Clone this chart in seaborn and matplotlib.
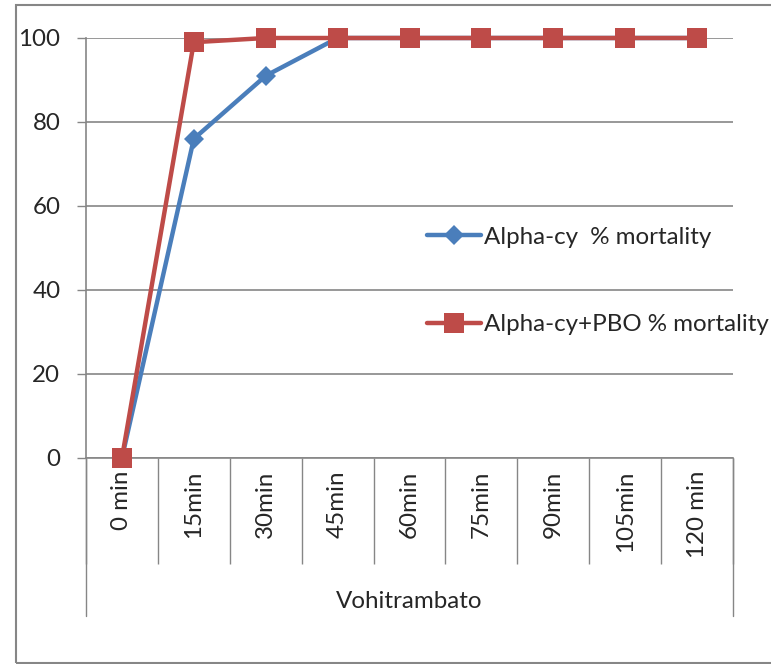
import numpy as np
import pandas as pd
import matplotlib
matplotlib.use("Agg")
import matplotlib.pyplot as plt
from matplotlib.patches import Rectangle
import seaborn as sns

# data
times = ["0 min", "15min", "30min", "45min", "60min", "75min", "90min", "105min", "120 min"]
alpha_cy = [0, 76, 91, 100, 100, 100, 100, 100, 100]
alpha_cy_pbo = [0, 99, 100, 100, 100, 100, 100, 100, 100]
group_label = "Vohitrambato"

sns.set_style("white")
plt.rcParams["font.family"] = ["Lato", "DejaVu Sans"]
FS = 17.4
GRAY = "#868686"

fig = plt.figure(figsize=(7.71, 6.64), dpi=100)
ax = fig.add_axes([86 / 771, (664 - 458) / 664, (733 - 86) / 771, 420 / 664])

df = pd.DataFrame({"pos": np.arange(len(times)), "a": alpha_cy, "b": alpha_cy_pbo})
sns.lineplot(data=df, x="pos", y="a", ax=ax, color="#4A7EBB", lw=3.2, marker="D",
             markersize=10, markeredgewidth=0, label="Alpha-cy  % mortality",
             clip_on=False, zorder=3)
sns.lineplot(data=df, x="pos", y="b", ax=ax, color="#BE4B48", lw=3.2, marker="s",
             markersize=14, markeredgewidth=0, label="Alpha-cy+PBO % mortality",
             clip_on=False, zorder=4)

ax.set_xlim(-0.5, len(times) - 0.5)
ax.set_ylim(0, 100)
ax.set_xlabel("")
ax.set_ylabel("")

# y axis
ax.set_yticks(np.arange(0, 101, 20))
ax.tick_params(axis="y", direction="out", length=6.5, width=1, color=GRAY,
               labelsize=FS, pad=12, left=True)
ax.yaxis.grid(True, color=GRAY, lw=1.2)
ax.xaxis.grid(False)

# x axis: dividers as major ticks, category names as minor tick labels
ax.set_xticks(np.arange(-0.5, len(times), 1))
ax.set_xticklabels([])
ax.tick_params(axis="x", which="major", direction="out", length=76, width=1, color=GRAY, bottom=True)
ax.set_xticks(np.arange(len(times)), minor=True)
ax.set_xticklabels(times, minor=True, rotation=90, fontsize=FS)
ax.tick_params(axis="x", which="minor", length=0, pad=9)

for side in ["top", "right"]:
    ax.spines[side].set_visible(False)
for side in ["left", "bottom"]:
    ax.spines[side].set_color(GRAY)
    ax.spines[side].set_linewidth(1.2)

# outer dividers of the group level
tr = ax.get_xaxis_transform()
for xv in [-0.5, len(times) - 0.5]:
    ax.plot([xv, xv], [0, -158 / 420], transform=tr, color=GRAY, lw=1, clip_on=False)
ax.text(0.5, -(601 - 458) / 420, group_label, transform=ax.transAxes,
        ha="center", va="center", fontsize=FS)

leg = ax.legend(loc="center left", bbox_to_anchor=((427 - 86) / 647, (458 - 281) / 420),
                frameon=False, fontsize=FS, handlelength=2.25, handletextpad=0.1,
                labelspacing=2.75, borderaxespad=0, borderpad=0)

# chart border
fig.patches.append(Rectangle((16 / 771, 1 / 664), 1.0, (663 - 5) / 664,
                             transform=fig.transFigure, fill=False,
                             edgecolor=GRAY, lw=1.5))

fig.savefig("out.png", dpi=100)
